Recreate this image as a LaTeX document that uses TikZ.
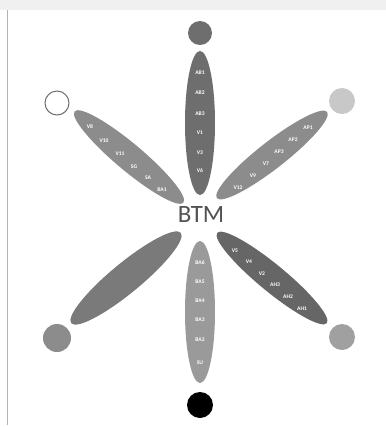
\documentclass[tikz,border=0pt]{standalone}
\usepackage{fontspec}
\setmainfont{Carlito}
\usetikzlibrary{shapes.geometric}
\definecolor{gA}{HTML}{6E6E6E}
\definecolor{gB}{HTML}{8C8C8C}
\definecolor{gC}{HTML}{666666}
\definecolor{gD}{HTML}{7A7A7A}
\definecolor{gE}{HTML}{9A9A9A}
\definecolor{gF}{HTML}{C8C8C8}
\definecolor{gG}{HTML}{A0A0A0}
\tikzset{
  petal/.style={ellipse, inner sep=0pt, draw=none},
  dot/.style={circle, inner sep=0pt, minimum size=#1},
  lbl/.style={text=white, font=\fontsize{5.6}{5.6}\selectfont\bfseries, inner sep=0pt},
}
\begin{document}
\begin{tikzpicture}[x=1bp,y=-1bp]
\useasboundingbox (0,0) rectangle (386,427);
\fill[white] (0,0) rectangle (386,427);
\fill[black!6] (0,0) rectangle (386,10);
\draw[black!30, line width=0.6bp] (7,10) -- (7,425);
% petals
\node[petal, fill=gA, minimum width=144bp, minimum height=30bp, rotate=90] (top) at (200,123) {};
\node[petal, fill=gE, minimum width=142bp, minimum height=30bp, rotate=90] (bot) at (200,312) {};
\node[petal, fill=gB, minimum width=142bp, minimum height=27bp, rotate=-40] (ul) at (129,157) {};
\node[petal, fill=gB, minimum width=140bp, minimum height=27bp, rotate=38] (ur) at (272,155) {};
\node[petal, fill=gC, minimum width=142bp, minimum height=27bp, rotate=-39.5] (lr) at (272,278) {};
\node[petal, fill=gD, minimum width=142bp, minimum height=30bp, rotate=39.5] (ll) at (126,278) {};
% dots
\node[dot=24bp, fill=gA] (ctop) at (200,33) {};
\node[dot=24bp, draw=gA, line width=1bp, fill=white] (cul) at (57,103) {};
\node[dot=26bp, fill=gF] (cur) at (342,101) {};
\node[dot=26bp, fill=gG] (clr) at (342,337) {};
\node[dot=28bp, fill=gB] (cll) at (57,338) {};
\node[dot=26bp, fill=black] (cbot) at (200,405) {};
% centre
\node[font=\fontsize{25}{25}\selectfont, text=black!68, inner sep=0pt] (btm) at (201,215) {BTM};
% labels top
\node[lbl] (ab1) at (200,73) {AB1};
\node[lbl] (ab2) at (200,93) {AB2};
\node[lbl] (ab3) at (200,114) {AB3};
\node[lbl] (v1) at (200,133) {V1};
\node[lbl] (v3) at (200,153) {V3};
\node[lbl] (v6) at (200,171) {V6};
% labels bottom
\node[lbl] (ba6) at (200,263) {BA6};
\node[lbl] (ba5) at (200,282) {BA5};
\node[lbl] (ba4) at (200,301) {BA4};
\node[lbl] (ba3) at (200,320) {BA3};
\node[lbl] (ba2) at (200,340) {BA2};
\node[lbl] (su) at (200,363) {SU};
% labels upper left
\node[lbl] (v8) at (90,127) {V8};
\node[lbl] (v10) at (104,141) {V10};
\node[lbl] (v11) at (120,154) {V11};
\node[lbl] (sg) at (134,167) {SG};
\node[lbl] (sa) at (148,178) {SA};
\node[lbl] (ba1) at (162,190) {BA1};
% labels upper right
\node[lbl] (ap1) at (308,128) {AP1};
\node[lbl] (ap2) at (293,140) {AP2};
\node[lbl] (ap3) at (279,152) {AP3};
\node[lbl] (v7) at (266,164) {V7};
\node[lbl] (v9) at (253,176) {V9};
\node[lbl] (v12) at (238,188) {V12};
% labels lower right
\node[lbl] (v5) at (235,251) {V5};
\node[lbl] (v4) at (249,262) {V4};
\node[lbl] (v2) at (262,274) {V2};
\node[lbl] (ah3) at (275,285) {AH3};
\node[lbl] (ah2) at (288,297) {AH2};
\node[lbl] (ah1) at (302,309) {AH1};
\end{tikzpicture}
\end{document}
